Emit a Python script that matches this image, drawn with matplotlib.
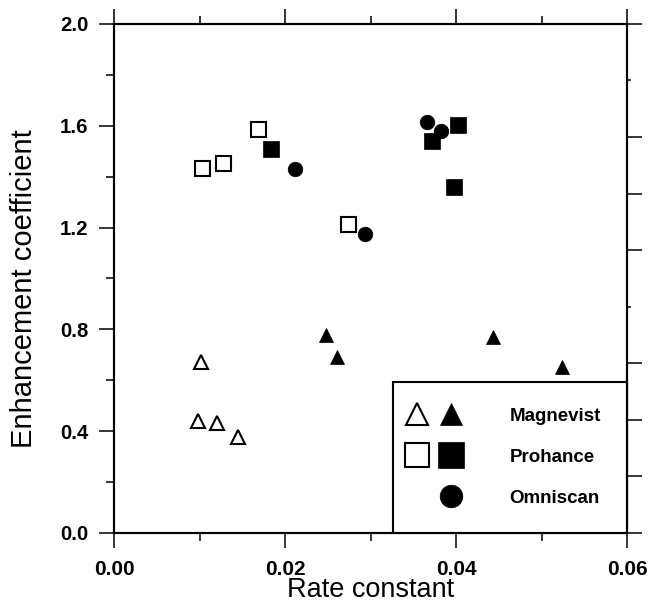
import matplotlib
matplotlib.use('Agg')
import matplotlib.pyplot as plt
from matplotlib.lines import Line2D
from matplotlib.legend_handler import HandlerTuple
from matplotlib.ticker import MultipleLocator, FixedLocator

# ---- data ----
magnevist_open_x = [0.01015, 0.00986, 0.01201, 0.01454]
magnevist_open_y = [0.671, 0.440, 0.432, 0.376]
magnevist_filled_x = [0.02477, 0.02606, 0.04430, 0.05244]
magnevist_filled_y = [0.776, 0.693, 0.770, 0.651]

prohance_open_x = [0.01027, 0.01277, 0.01679, 0.02731]
prohance_open_y = [1.433, 1.453, 1.586, 1.213]
prohance_filled_x = [0.01841, 0.03717, 0.04027, 0.03971]
prohance_filled_y = [1.507, 1.542, 1.603, 1.359]

omniscan_x = [0.02118, 0.03665, 0.03826, 0.02940]
omniscan_y = [1.432, 1.613, 1.579, 1.174]

series_labels = ['Magnevist', 'Prohance', 'Omniscan']
x_ticks = [0.00, 0.02, 0.04, 0.06]
x_tick_labels = ['0.00', '0.02', '0.04', '0.06']
y_ticks = [0.0, 0.4, 0.8, 1.2, 1.6, 2.0]
y_tick_labels = ['0.0', '0.4', '0.8', '1.2', '1.6', '2.0']
x_label = 'Rate constant'
y_label = 'Enhancement coefficient'

plt.rcParams['font.family'] = ['Liberation Sans', 'DejaVu Sans']

fig = plt.figure(figsize=(6.49, 6.06), dpi=100)
ax = fig.add_axes([0.1757, 0.1205, 0.7904, 0.840])

open_kw = dict(ls='none', mfc='white', mec='black', mew=1.5)
fill_kw = dict(ls='none', mfc='black', mec='black', mew=0.5)

h_mo, = ax.plot(magnevist_open_x, magnevist_open_y, marker='^', ms=9.8, **open_kw)
h_mf, = ax.plot(magnevist_filled_x, magnevist_filled_y, marker='^', ms=10.5, **fill_kw)
h_po, = ax.plot(prohance_open_x, prohance_open_y, marker='s', ms=10.8, **open_kw)
h_pf, = ax.plot(prohance_filled_x, prohance_filled_y, marker='s', ms=12, **fill_kw)
h_om, = ax.plot(omniscan_x, omniscan_y, marker='o', ms=10.5, **fill_kw)
h_blank = Line2D([], [], ls='none', marker='o', ms=10.5, alpha=0)

ax.set_xlim(0, 0.06)
ax.set_ylim(0, 2.0)
ax.set_xticks(x_ticks)
ax.set_xticklabels(x_tick_labels)
ax.set_yticks(y_ticks)
ax.set_yticklabels(y_tick_labels)
ax.xaxis.set_minor_locator(MultipleLocator(0.01))
ax.yaxis.set_minor_locator(MultipleLocator(0.2))

ax.tick_params(which='both', direction='out', top=True, right=False, width=1.1)
ax.tick_params(which='major', length=11)
ax.tick_params(axis='x', which='major', pad=8.5, labelsize=15)
ax.tick_params(axis='y', which='major', pad=7.5, labelsize=14.7)
ax.tick_params(which='minor', length=5.5)
for lbl in ax.get_xticklabels() + ax.get_yticklabels():
    lbl.set_fontweight('bold')
for s in ax.spines.values():
    s.set_linewidth(1.5)

ax.set_xlabel(x_label, fontsize=19.5)
ax.set_ylabel(y_label, fontsize=21)
ax.xaxis.set_label_coords(0.5, -0.0857)
ax.yaxis.set_label_coords(-0.149, 0.481)

# right axis with its own (9-division) tick marks, no labels
ax2 = ax.twinx()
ax2.set_ylim(0, 2.0)
right_major = [2.0 * k / 9 for k in (0, 1, 2, 3, 5, 6, 7, 9)]
right_minor = [2.0 * k / 9 for k in (4, 8)]
ax2.yaxis.set_major_locator(FixedLocator(right_major))
ax2.yaxis.set_minor_locator(FixedLocator(right_minor))
ax2.tick_params(which='both', direction='out', labelright=False, width=1.1)
ax2.tick_params(which='major', length=11)
ax2.tick_params(which='minor', length=3)
for s in ax2.spines.values():
    s.set_linewidth(1.5)

leg = ax.legend([(h_mo, h_mf), (h_po, h_pf), (h_blank, h_om)], series_labels,
                handler_map={tuple: HandlerTuple(ndivide=None, pad=2.027)},
                loc='lower right', bbox_to_anchor=(1.0, 0.0), borderaxespad=0.0,
                prop={'weight': 'bold', 'size': 13.5}, markerscale=1.55,
                borderpad=1.387, handlelength=1.6, handletextpad=3.216,
                labelspacing=1.275, fancybox=False, framealpha=1.0,
                edgecolor='black')
leg.get_frame().set_linewidth(1.5)

fig.savefig('out.png', dpi=100)
